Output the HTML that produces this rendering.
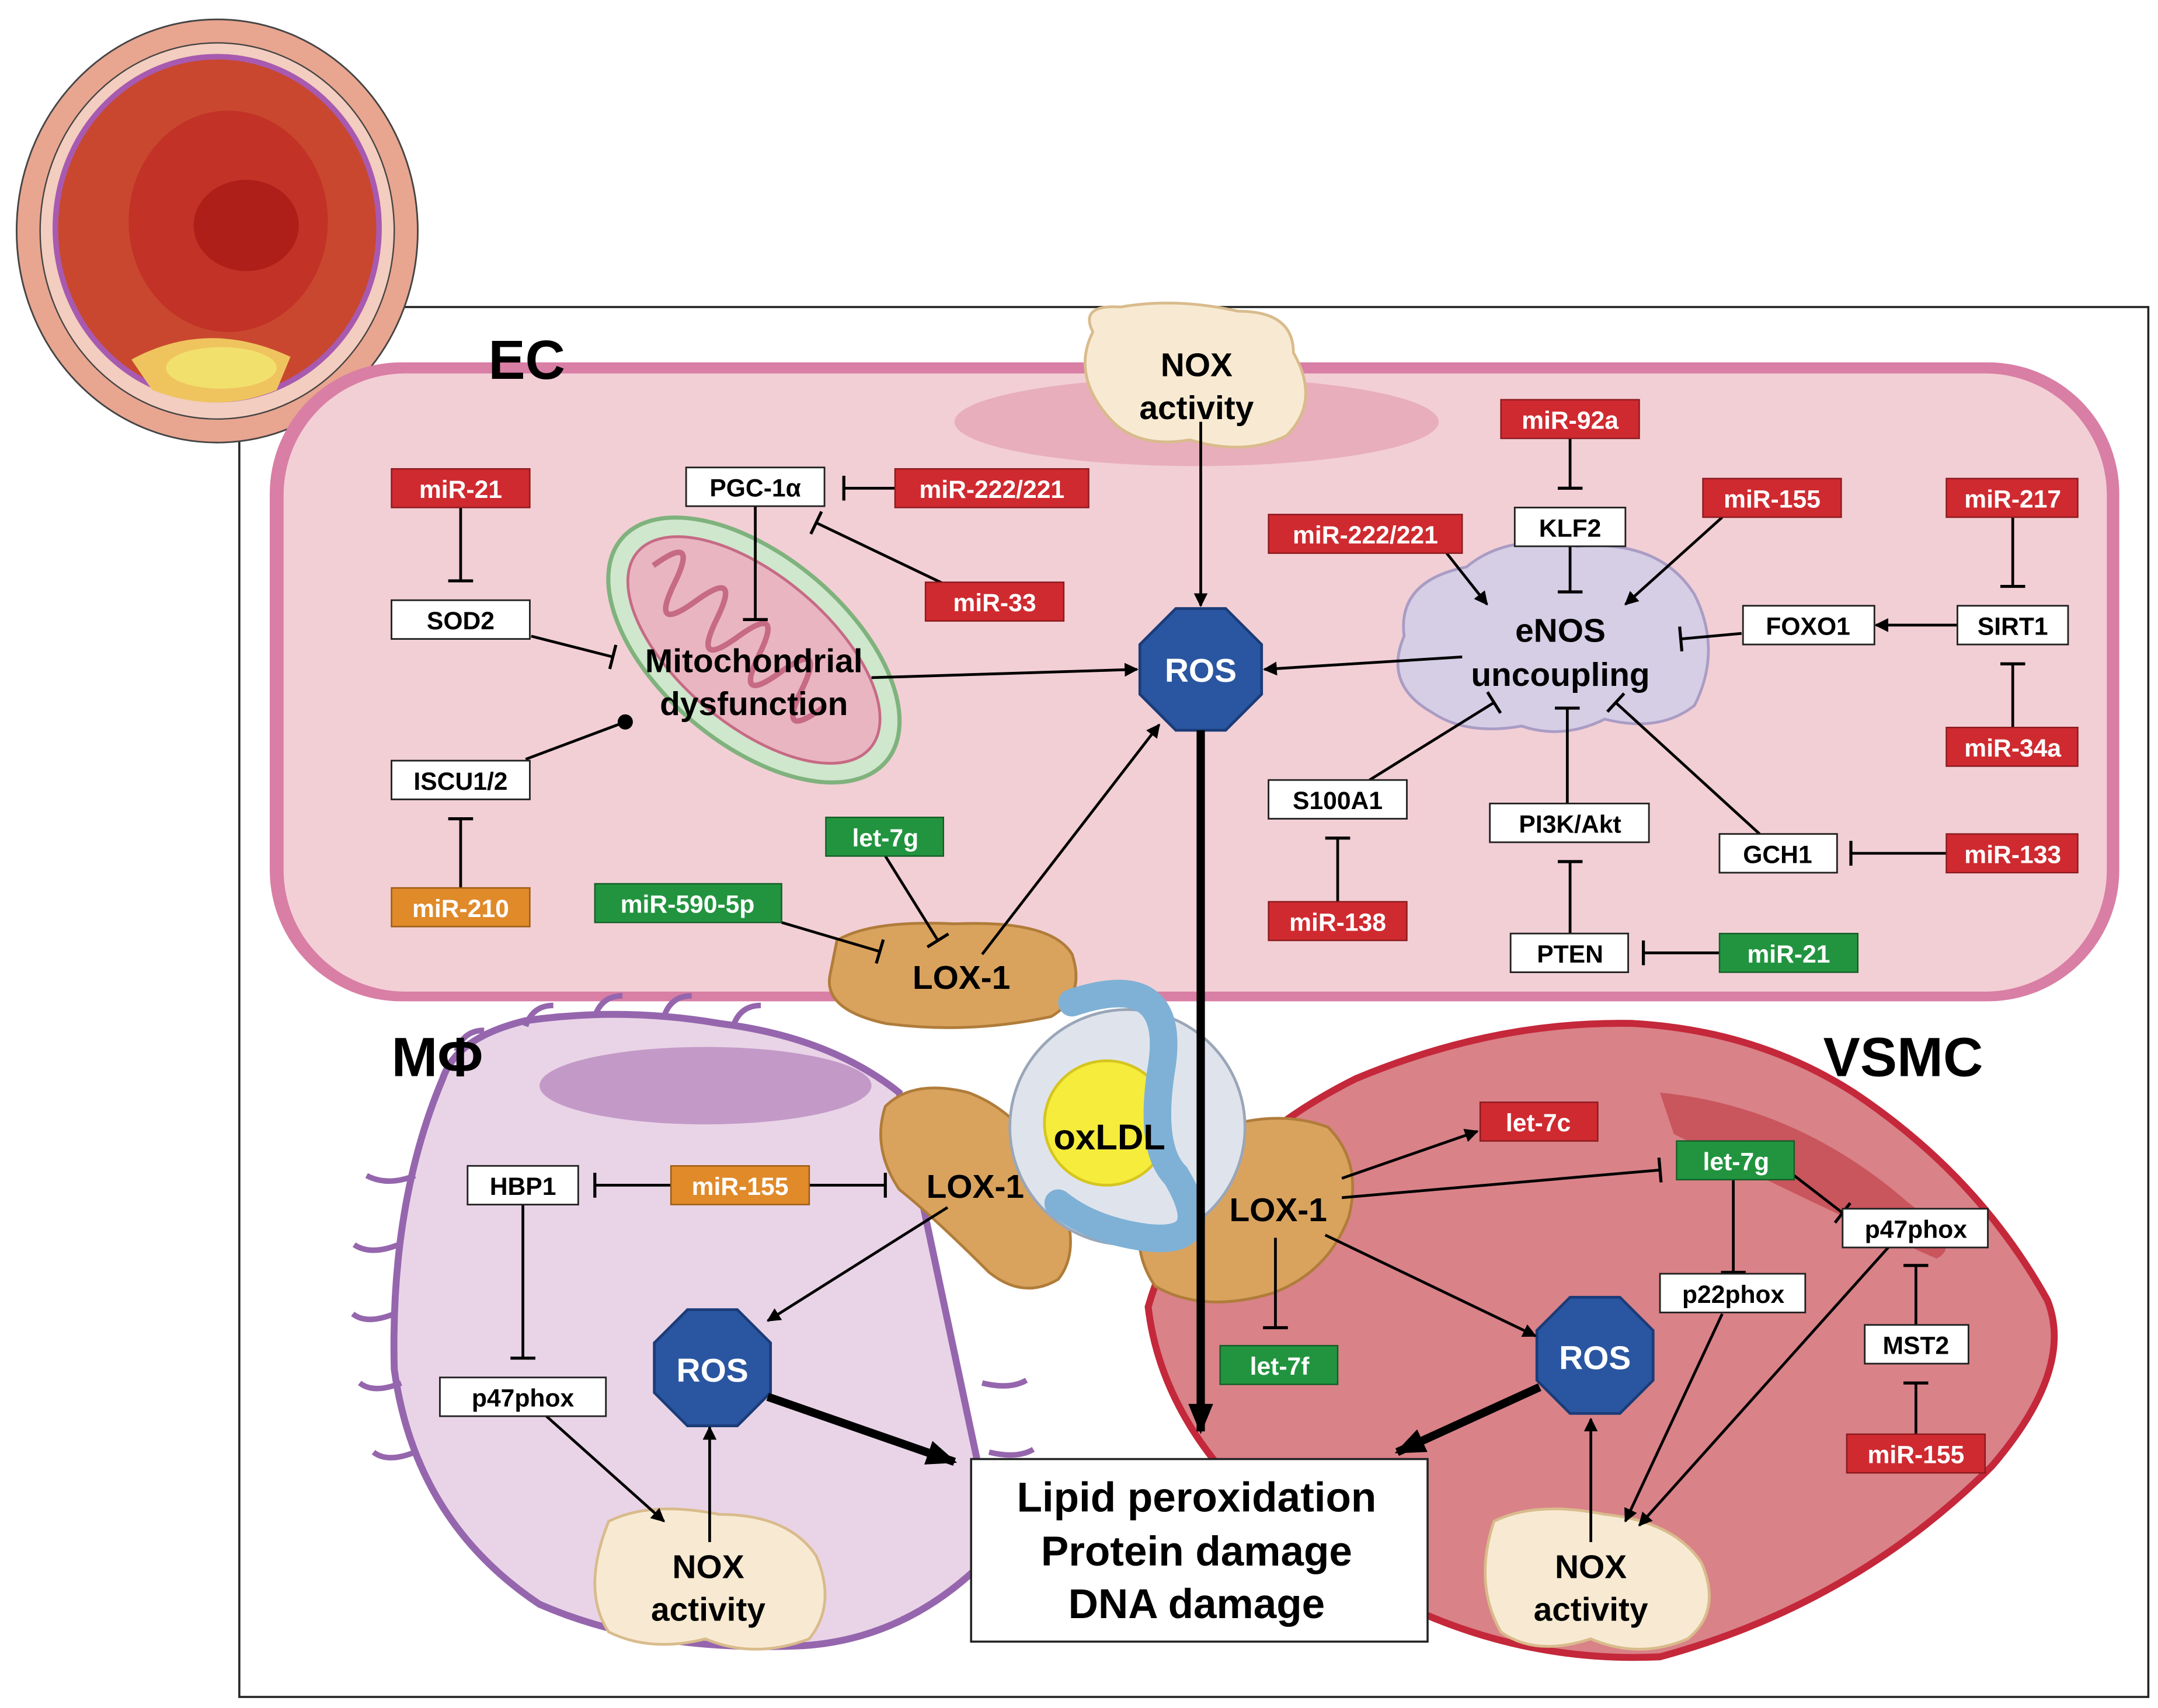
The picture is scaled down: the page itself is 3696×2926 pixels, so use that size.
<!DOCTYPE html>
<html><head><meta charset="utf-8"><style>
html,body{margin:0;padding:0;background:#fff;}
svg{display:block;}
text{font-family:"Liberation Sans",sans-serif;font-weight:bold;}
</style></head><body>
<svg width="3696" height="2926" viewBox="0 0 1560 1235" xmlns="http://www.w3.org/2000/svg">
<defs>
<marker id="ar" markerWidth="10" markerHeight="10" refX="9" refY="5" orient="auto" markerUnits="userSpaceOnUse"><path d="M0,0 L10,5 L0,10 z" fill="#000"/></marker>
<marker id="arT" markerWidth="22" markerHeight="22" refX="20" refY="11" orient="auto" markerUnits="userSpaceOnUse"><path d="M0,2 L22,11 L0,20 z" fill="#000"/></marker>
<marker id="bar" markerWidth="4" markerHeight="18" refX="2" refY="9" orient="auto" markerUnits="userSpaceOnUse"><path d="M2,0 L2,18" stroke="#000" stroke-width="2.2"/></marker>
<marker id="dot" markerWidth="12" markerHeight="12" refX="6" refY="6" orient="auto" markerUnits="userSpaceOnUse"><circle cx="6" cy="6" r="5.5" fill="#000"/></marker>
</defs>

<!-- outer frame -->
<rect x="173" y="222" width="1380" height="1005" fill="none" stroke="#222" stroke-width="1.5"/>

<!-- vessel -->
<ellipse cx="157" cy="167" rx="145" ry="153" fill="#e8a590" stroke="#444" stroke-width="1.2"/>
<ellipse cx="157" cy="167" rx="128" ry="136" fill="#f3cdbf" stroke="#444" stroke-width="1"/>
<ellipse cx="157" cy="165" rx="117" ry="124" fill="#c9472f" stroke="#a85ab0" stroke-width="4"/>
<ellipse cx="165" cy="160" rx="72" ry="80" fill="#c23226"/>
<ellipse cx="178" cy="163" rx="38" ry="33" fill="#ad1f18"/>
<path d="M95,260 Q150,230 210,258 L200,282 Q157,300 110,282 z" fill="#efc45e"/>
<ellipse cx="160" cy="266" rx="40" ry="15" fill="#f2e06c"/>

<!-- EC cell -->
<rect x="195" y="262" width="1337" height="462" rx="95" fill="#d97ea5"/>
<rect x="205" y="270" width="1318" height="447" rx="88" fill="#f2cfd5"/>
<ellipse cx="865" cy="305" rx="175" ry="32" fill="#e8aebb"/>
<text x="353" y="274" font-size="40">EC</text>

<!-- MΦ cell -->
<path d="M320,780 Q330,750 380,738 Q450,728 520,740 Q600,750 650,790 L720,1120 Q660,1185 580,1190 Q470,1195 390,1160 Q300,1100 285,990 Q282,870 320,780 z" fill="#e9d4e7" stroke="#9566ad" stroke-width="5"/>
<path d="M300,850 q-20,8 -35,0 M288,900 q-20,8 -32,0 M285,950 q-20,8 -30,0 M290,1000 q-20,8 -30,0 M300,1050 q-20,8 -30,0 M330,760 q5,-15 20,-15 M380,742 q5,-15 20,-15 M430,735 q5,-15 20,-15 M480,735 q5,-15 20,-15 M530,742 q5,-15 20,-15 M710,1000 q20,5 32,-2 M715,1050 q20,5 32,-2" fill="none" stroke="#9566ad" stroke-width="4"/>
<ellipse cx="510" cy="785" rx="120" ry="28" fill="#c39ac7"/>
<text x="283" y="778" font-size="40">MΦ</text>

<!-- VSMC cell -->
<path d="M830,945 Q860,840 980,780 Q1080,738 1180,740 Q1270,745 1340,790 Q1430,850 1480,940 Q1500,990 1440,1060 Q1340,1160 1200,1198 Q1050,1205 920,1100 Q840,1030 830,945 z" fill="#d98288" stroke="#c4283a" stroke-width="5"/>
<path d="M1200,790 Q1300,800 1380,870 Q1420,900 1400,910 Q1330,880 1210,820 z" fill="#c9555d"/>
<text x="1318" y="778" font-size="40">VSMC</text>

<!-- mitochondrion -->
<g transform="rotate(40 545 470)">
<ellipse cx="545" cy="470" rx="125" ry="68" fill="#cfe7cc" stroke="#7fb27d" stroke-width="3"/>
<ellipse cx="545" cy="470" rx="110" ry="54" fill="#e9b5c1" stroke="#c66a85" stroke-width="2"/>
<path d="M450,470 q10,-40 20,0 q10,40 20,0 q10,-40 20,0 q10,40 20,0 q10,-40 20,0 q10,40 20,0 q10,-40 20,0 q10,40 20,0" fill="none" stroke="#c66a85" stroke-width="4"/>
</g>

<!-- eNOS blob -->
<path d="M1015,460 Q1010,420 1060,410 Q1090,385 1140,395 Q1200,390 1225,430 Q1245,470 1225,510 Q1200,530 1160,520 Q1130,535 1100,525 Q1060,532 1035,515 Q1000,495 1015,460 z" fill="#d5cee5" stroke="#a99cc4" stroke-width="2"/>

<!-- NOX blobs -->
<g fill="#f8ead2" stroke="#d9bb8c" stroke-width="2">
<path d="M790,240 Q780,220 810,222 Q850,215 895,225 Q935,225 935,255 Q955,290 930,315 Q900,330 860,318 Q820,325 800,300 Q775,270 790,240 z"/>
<path d="M440,1100 Q470,1085 520,1095 Q570,1095 590,1125 Q605,1160 585,1185 Q545,1200 510,1185 Q470,1195 440,1180 Q420,1150 440,1100 z"/>
<path d="M1080,1100 Q1110,1085 1160,1095 Q1210,1100 1230,1130 Q1245,1165 1220,1185 Q1185,1200 1150,1185 Q1110,1198 1085,1180 Q1065,1145 1080,1100 z"/>
</g>

<!-- LOX-1 blobs -->
<g fill="#d9a35e" stroke="#b07c3a" stroke-width="2">
<path d="M605,680 Q630,665 690,668 Q760,665 775,690 Q785,720 760,735 Q700,748 640,740 Q595,730 600,705 z"/>
<path d="M640,800 Q660,780 700,790 Q740,805 760,850 Q785,900 765,925 Q740,940 715,920 Q675,880 650,860 Q630,830 640,800 z"/>
<path d="M870,820 Q920,800 960,815 Q985,840 975,880 Q960,920 920,935 Q870,950 835,930 Q815,900 830,870 z"/>
</g>

<!-- oxLDL -->
<circle cx="815" cy="815" r="85" fill="#dfe4ec" stroke="#9aa6b8" stroke-width="2"/>
<circle cx="800" cy="812" r="45" fill="#f5ec3b" stroke="#d6c520" stroke-width="2"/>
<path d="M775,725 Q850,700 840,770 Q830,830 850,850 Q880,900 830,895 Q790,890 765,870" fill="none" stroke="#7fb1d6" stroke-width="20" stroke-linecap="round"/>
<text x="802" y="831" font-size="26" text-anchor="middle">oxLDL</text>

<!-- ROS octagons -->
<g fill="#2a56a1" stroke="#1b3c78" stroke-width="2">
<polygon points="850,440 886,440 912,466 912,502 886,528 850,528 824,502 824,466"/>
<polygon points="497,947 533,947 557,971 557,1007 533,1031 497,1031 473,1007 473,971"/>
<polygon points="1135,938 1171,938 1195,962 1195,998 1171,1022 1135,1022 1111,998 1111,962"/>
</g>
<g fill="#fff" font-size="24" text-anchor="middle">
<text x="868" y="493">ROS</text><text x="515" y="999">ROS</text><text x="1153" y="990">ROS</text>
</g>

<!-- big text labels -->
<g font-size="24" text-anchor="middle">
<text x="865" y="272">NOX</text><text x="865" y="303">activity</text>
<text x="512" y="1141">NOX</text><text x="512" y="1172">activity</text>
<text x="1150" y="1141">NOX</text><text x="1150" y="1172">activity</text>
<text x="545" y="486">Mitochondrial</text><text x="545" y="517">dysfunction</text>
<text x="1128" y="464">eNOS</text><text x="1128" y="496">uncoupling</text>
<text x="695" y="715">LOX-1</text><text x="705" y="866">LOX-1</text><text x="924" y="883">LOX-1</text>
</g>

<!-- result box -->
<rect x="702" y="1055" width="330" height="132" fill="#fff" stroke="#222" stroke-width="1.5"/>
<g font-size="30" text-anchor="middle">
<text x="865" y="1093">Lipid peroxidation</text><text x="865" y="1132">Protein damage</text><text x="865" y="1170">DNA damage</text>
</g>

<!-- connectors -->
<g stroke="#000" stroke-width="2" fill="none">
<line x1="333" y1="367" x2="333" y2="420" marker-end="url(#bar)"/>
<line x1="333" y1="642" x2="333" y2="592" marker-end="url(#bar)"/>
<line x1="384" y1="460" x2="443" y2="475" marker-end="url(#bar)"/>
<line x1="380" y1="549" x2="452" y2="522" marker-end="url(#dot)"/>
<line x1="546" y1="366" x2="546" y2="448" marker-end="url(#bar)"/>
<line x1="647" y1="353" x2="610" y2="353" marker-end="url(#bar)"/>
<line x1="682" y1="422" x2="590" y2="378" marker-end="url(#bar)"/>
<line x1="630" y1="490" x2="822" y2="484" marker-end="url(#ar)"/>
<line x1="868" y1="305" x2="868" y2="438" marker-end="url(#ar)"/>
<line x1="1057" y1="475" x2="914" y2="484" marker-end="url(#ar)"/>
<line x1="1135" y1="317" x2="1135" y2="353" marker-end="url(#bar)"/>
<line x1="1135" y1="395" x2="1135" y2="428" marker-end="url(#bar)"/>
<line x1="1045" y1="399" x2="1075" y2="437" marker-end="url(#ar)"/>
<line x1="1245" y1="374" x2="1175" y2="437" marker-end="url(#ar)"/>
<line x1="1259" y1="458" x2="1215" y2="462" marker-end="url(#bar)"/>
<line x1="1415" y1="452" x2="1356" y2="452" marker-end="url(#ar)"/>
<line x1="1455" y1="374" x2="1455" y2="424" marker-end="url(#bar)"/>
<line x1="1455" y1="526" x2="1455" y2="480" marker-end="url(#bar)"/>
<line x1="990" y1="564" x2="1080" y2="508" marker-end="url(#bar)"/>
<line x1="1133" y1="581" x2="1133" y2="512" marker-end="url(#bar)"/>
<line x1="1272" y1="603" x2="1168" y2="508" marker-end="url(#bar)"/>
<line x1="1407" y1="617" x2="1338" y2="617" marker-end="url(#bar)"/>
<line x1="967" y1="652" x2="967" y2="606" marker-end="url(#bar)"/>
<line x1="1135" y1="675" x2="1135" y2="623" marker-end="url(#bar)"/>
<line x1="1243" y1="689" x2="1188" y2="689" marker-end="url(#bar)"/>
<line x1="640" y1="619" x2="678" y2="680" marker-end="url(#bar)"/>
<line x1="565" y1="667" x2="636" y2="688" marker-end="url(#bar)"/>
<line x1="710" y1="690" x2="838" y2="524" marker-end="url(#ar)"/>
<line x1="485" y1="857" x2="430" y2="857" marker-end="url(#bar)"/>
<line x1="585" y1="857" x2="640" y2="857" marker-end="url(#bar)"/>
<line x1="378" y1="871" x2="378" y2="982" marker-end="url(#bar)"/>
<line x1="685" y1="873" x2="555" y2="955" marker-end="url(#ar)"/>
<line x1="395" y1="1024" x2="480" y2="1100" marker-end="url(#ar)"/>
<line x1="513" y1="1115" x2="513" y2="1032" marker-end="url(#ar)"/>
<line x1="970" y1="852" x2="1068" y2="818" marker-end="url(#ar)"/>
<line x1="970" y1="866" x2="1200" y2="846" marker-end="url(#bar)"/>
<line x1="1297" y1="850" x2="1332" y2="877" marker-end="url(#bar)"/>
<line x1="1253" y1="853" x2="1253" y2="920" marker-end="url(#bar)"/>
<line x1="922" y1="895" x2="922" y2="960" marker-end="url(#bar)"/>
<line x1="958" y1="893" x2="1110" y2="966" marker-end="url(#ar)"/>
<line x1="1150" y1="1115" x2="1150" y2="1026" marker-end="url(#ar)"/>
<line x1="1245" y1="950" x2="1175" y2="1100" marker-end="url(#ar)"/>
<line x1="1365" y1="902" x2="1185" y2="1103" marker-end="url(#ar)"/>
<line x1="1385" y1="958" x2="1385" y2="915" marker-end="url(#bar)"/>
<line x1="1385" y1="1037" x2="1385" y2="1000" marker-end="url(#bar)"/>
</g>
<g stroke="#000" stroke-width="6" fill="none">
<line x1="868" y1="528" x2="868" y2="1035" marker-end="url(#arT)"/>
<line x1="555" y1="1010" x2="690" y2="1057" marker-end="url(#arT)"/>
<line x1="1113" y1="1003" x2="1010" y2="1050" marker-end="url(#arT)"/>
</g>

<!-- labelled boxes -->
<g font-size="18" text-anchor="middle">
<!-- red -->
<g fill="#cf2a30" stroke="#8a1a1e" stroke-width="1">
<rect x="283" y="339" width="100" height="28"/>
<rect x="647" y="339" width="140" height="28"/>
<rect x="669" y="421" width="100" height="28"/>
<rect x="1085" y="289" width="100" height="28"/>
<rect x="917" y="372" width="140" height="28"/>
<rect x="1231" y="346" width="100" height="28"/>
<rect x="1407" y="346" width="95" height="28"/>
<rect x="1407" y="526" width="95" height="28"/>
<rect x="1407" y="603" width="95" height="28"/>
<rect x="917" y="652" width="100" height="28"/>
<rect x="1070" y="797" width="85" height="28"/>
<rect x="1335" y="1037" width="100" height="28"/>
</g>
<g fill="#22943f" stroke="#145d27" stroke-width="1">
<rect x="597" y="591" width="85" height="28"/>
<rect x="430" y="639" width="135" height="28"/>
<rect x="1243" y="675" width="100" height="28"/>
<rect x="1212" y="825" width="85" height="28"/>
<rect x="882" y="973" width="85" height="28"/>
</g>
<g fill="#e08a2a" stroke="#9a5a14" stroke-width="1">
<rect x="283" y="642" width="100" height="28"/>
<rect x="485" y="843" width="100" height="28"/>
</g>
<g fill="#fff" stroke="#222" stroke-width="1.2">
<rect x="283" y="434" width="100" height="28"/>
<rect x="283" y="550" width="100" height="28"/>
<rect x="496" y="338" width="100" height="28"/>
<rect x="1095" y="367" width="80" height="28"/>
<rect x="1260" y="438" width="95" height="28"/>
<rect x="1415" y="438" width="80" height="28"/>
<rect x="917" y="564" width="100" height="28"/>
<rect x="1077" y="581" width="115" height="28"/>
<rect x="1243" y="603" width="85" height="28"/>
<rect x="1092" y="675" width="85" height="28"/>
<rect x="338" y="843" width="80" height="28"/>
<rect x="318" y="996" width="120" height="28"/>
<rect x="1332" y="874" width="105" height="28"/>
<rect x="1200" y="921" width="105" height="28"/>
<rect x="1348" y="958" width="75" height="28"/>
</g>
<g fill="#fff">
<text x="333" y="360">miR-21</text><text x="717" y="360">miR-222/221</text><text x="719" y="442">miR-33</text>
<text x="1135" y="310">miR-92a</text><text x="987" y="393">miR-222/221</text><text x="1281" y="367">miR-155</text>
<text x="1455" y="367">miR-217</text><text x="1455" y="547">miR-34a</text><text x="1455" y="624">miR-133</text>
<text x="967" y="673">miR-138</text><text x="1112" y="818">let-7c</text><text x="1385" y="1058">miR-155</text>
<text x="640" y="612">let-7g</text><text x="497" y="660">miR-590-5p</text><text x="1293" y="696">miR-21</text>
<text x="1255" y="846">let-7g</text><text x="925" y="994">let-7f</text>
<text x="333" y="663">miR-210</text><text x="535" y="864">miR-155</text>
</g>
<g fill="#000">
<text x="333" y="455">SOD2</text><text x="333" y="571">ISCU1/2</text><text x="546" y="359">PGC-1α</text>
<text x="1135" y="388">KLF2</text><text x="1307" y="459">FOXO1</text><text x="1455" y="459">SIRT1</text>
<text x="967" y="585">S100A1</text><text x="1135" y="602">PI3K/Akt</text><text x="1285" y="624">GCH1</text>
<text x="1135" y="696">PTEN</text><text x="378" y="864">HBP1</text><text x="378" y="1017">p47phox</text>
<text x="1385" y="895">p47phox</text><text x="1253" y="942">p22phox</text><text x="1385" y="979">MST2</text>
</g>
</g>
</svg>
</body></html>
